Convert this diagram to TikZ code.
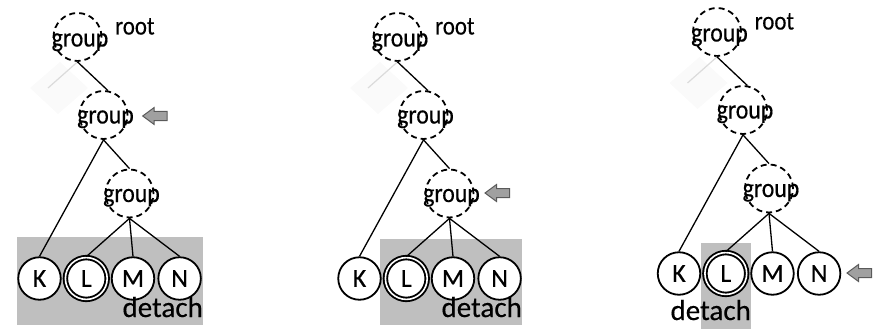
\documentclass[tikz,border=0pt]{standalone}
\usepackage{fontspec}
\setmainfont{Carlito}[FakeBold=0.4]
\newfontfamily\narrowfont{Carlito}[FakeStretch=0.88,FakeBold=0.4]
\definecolor{shadegray}{RGB}{191,191,191}
\definecolor{pointerfill}{RGB}{160,160,160}
\definecolor{pointerline}{RGB}{90,90,90}
\begin{document}
\begin{tikzpicture}[x=1pt,y=-1pt,
  grp/.style={circle,draw,dash pattern=on 6pt off 4pt,line width=1.8pt,
    minimum size=48pt,inner sep=0pt},
  leaf/.style={circle,draw,line width=1.8pt,fill=white,minimum size=42.5pt,
    inner sep=0pt,font=\fontsize{26}{26}\selectfont},
  sel/.style={leaf,double,double distance=1.6pt,line width=1.9pt,minimum size=41.8pt},
  edge/.style={line width=1.3pt},
  ghost/.style={line width=1.2pt,black!14},
  haze/.style={black!2},
  word/.style={inner sep=0pt,anchor=base,font=\narrowfont\fontsize{27}{27}\selectfont},
  tag/.style={inner sep=0pt,anchor=base west,font=\narrowfont\fontsize{26}{26}\selectfont},
  note/.style={inner sep=0pt,anchor=base east,font=\fontsize{29}{29}\selectfont},
  shade/.style={shadegray},
  pointer/.pic={\draw[fill=pointerfill,draw=pointerline,line width=1pt,line join=miter]
    (0,0) -- (11.5,-8.5) -- (11.5,-4.5) -- (24.5,-4.5) -- (24.5,4.5) -- (11.5,4.5) -- (11.5,8.5) -- cycle;}
]
\useasboundingbox (0,0) rectangle (879,329);

% shaded regions of the detached nodes
\fill[shade] (17,237) rectangle (203,325);
\fill[shade] (380,239) rectangle (522,325);
\fill[shade] (701,243) rectangle (751,329);

% the same tree in each of the three steps
\foreach \p/\dx/\dy in {1/0/0,2/320/0,3/639.5/-5}{
  \begin{scope}[shift={(\dx,\dy)}]
    \fill[haze] (60,62) -- (88,88) -- (58,114) -- (30,88) -- cycle;
    \node[grp] (r\p) at (77.5,37) {};
    \node[grp] (g\p) at (103.5,115) {};
    \node[grp] (h\p) at (129.5,193.5) {};
    \node[word] (tr\p) at (80,46.5) {group};
    \node[word] (tg\p) at (105.5,123.5) {group};
    \node[word] (th\p) at (131.5,202) {group};
    \node[tag] (rt\p) at (115,34.5) {root};
    \node[leaf] (k\p) at (39.5,278.5) {K};
    \node[sel]  (l\p) at (86.3,278.5) {L};
    \node[leaf] (m\p) at (133,278.5) {M};
    \node[leaf] (n\p) at (179.6,278.5) {N};
    \coordinate (f\p) at (48,88);
    \draw[ghost] (r\p.south) -- (f\p);
    \draw[edge] (r\p.south) -- (g\p.80);
    \draw[edge] (g\p.south) -- (h\p.north);
    \draw[edge] (g\p.south) -- (k\p.north);
    \draw[edge] (h\p.south) -- (l\p.north);
    \draw[edge] (h\p.south) -- (m\p.north);
    \draw[edge] (h\p.south) -- (n\p.north);
  \end{scope}
}

% step labels
\node[note] (d1) at (203,317) {detach};
\node[note] (d2) at (522,317) {detach};
\node[note] (d3) at (751,320) {detach};

% pointers to the current node
\pic at (142.7,116) {pointer};
\pic at (485,193) {pointer};
\pic at (847,273) {pointer};
\end{tikzpicture}
\end{document}
